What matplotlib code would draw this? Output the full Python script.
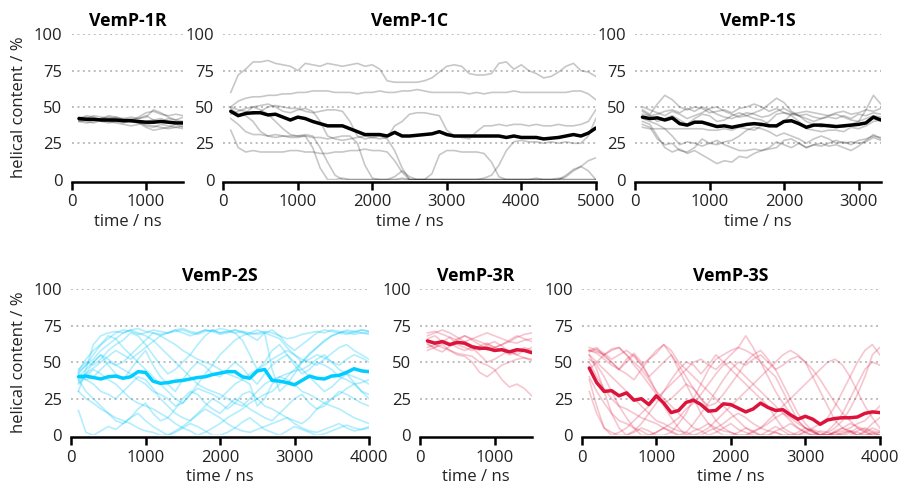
import numpy as np
import matplotlib
matplotlib.use("Agg")
import matplotlib.pyplot as plt

plt.rcParams['font.family'] = ['Open Sans', 'DejaVu Sans']

# ---------------- data ----------------
panel_titles = ["VemP-1R", "VemP-1C", "VemP-1S", "VemP-2S", "VemP-3R", "VemP-3S"]
panel_tmax = [1500, 5000, 3300, 4000, 1500, 4000]
yticks = [0, 25, 50, 75, 100]

# VemP-1R (t = 100..1500 ns, step 100)
vemp1r_runs = [
    [42, 43, 41, 42, 44, 43, 42, 41, 43, 46, 47, 45, 44, 45, 44],
    [40, 41, 42, 40, 39, 40, 41, 42, 40, 37, 36, 38, 37, 36, 37],
    [43, 42, 44, 43, 42, 41, 42, 43, 42, 44, 41, 40, 42, 41, 43],
    [41, 40, 39, 41, 40, 39, 38, 37, 38, 40, 41, 42, 40, 39, 38],
    [42, 44, 43, 41, 42, 43, 41, 40, 39, 36, 34, 35, 36, 38, 36],
    [40, 39, 40, 42, 41, 40, 39, 41, 42, 43, 48, 46, 43, 41, 40],
    [41, 42, 41, 42, 43, 42, 41, 40, 39, 38, 37, 36, 35, 36, 35],
]
vemp1r_mean = [42, 41.5, 41.5, 41, 41, 41, 40.5, 40.5, 40, 39.5, 39.5, 40, 39.5, 39, 39]

# VemP-1C (t = 100..5000 ns)
vemp1c_runs = [
    [60, 72, 76, 81, 81, 82, 80, 79, 78, 75,
     80, 79, 78, 80, 79, 78, 79, 80, 78, 79,
     76, 68, 67, 67, 67, 67, 68, 70, 74, 78,
     79, 78, 73, 72, 72, 73, 80, 81, 76, 79,
     75, 73, 70, 71, 74, 78, 80, 75, 74, 71],
    [50, 54, 56, 57, 57, 58, 58, 59, 59, 60,
     60, 61, 61, 61, 60, 60, 60, 59, 60, 60,
     61, 60, 60, 61, 61, 62, 61, 60, 60, 60,
     60, 60, 59, 60, 59, 60, 60, 60, 61, 60,
     60, 60, 60, 60, 60, 60, 61, 61, 59, 55],
    [42, 38, 33, 31, 31, 30, 31, 30, 30, 30,
     30, 22, 8, 0, 0, 1, 0, 0, 0, 0,
     0, 0, 0, 1, 0, 0, 0, 0, 0, 0,
     0, 0, 0, 0, 0, 0, 0, 0, 0, 0,
     0, 0, 0, 0, 0, 3, 7, 9, 13, 15],
    [34, 22, 19, 20, 19, 19, 19, 19, 20, 20,
     19, 19, 18, 18, 19, 19, 20, 20, 21, 20,
     20, 19, 13, 5, 0, 0, 0, 4, 17, 20,
     20, 19, 19, 19, 18, 12, 2, 0, 0, 0,
     0, 1, 0, 0, 0, 2, 6, 9, 6, 0],
    [50, 48, 47, 45, 47, 50, 51, 50, 49, 49,
     47, 46, 47, 48, 48, 47, 40, 30, 28, 29,
     28, 29, 37, 40, 45, 46, 46, 45, 44, 34,
     30, 29, 28, 33, 37, 37, 38, 37, 38, 38,
     37, 38, 37, 37, 38, 37, 37, 38, 40, 48],
    [49, 45, 44, 40, 33, 30, 29, 30, 29, 29,
     30, 29, 29, 28, 29, 30, 30, 25, 10, 1,
     0, 0, 0, 0, 0, 0, 0, 0, 0, 0,
     0, 0, 0, 0, 1, 3, 10, 20, 26, 27,
     26, 26, 25, 26, 25, 26, 25, 25, 30, 42],
    [45, 47, 49, 50, 48, 45, 40, 35, 31, 30,
     31, 30, 22, 12, 3, 0, 0, 0, 0, 0,
     0, 0, 2, 6, 2, 0, 0, 0, 0, 0,
     0, 0, 0, 0, 0, 0, 0, 0, 0, 0,
     0, 0, 0, 0, 0, 0, 0, 0, 0, 0],
    [47, 44, 46, 50, 51, 52, 50, 47, 46, 48,
     49, 47, 40, 30, 28, 27, 28, 29, 30, 29,
     30, 28, 20, 8, 0, 0, 0, 0, 0, 0,
     0, 0, 0, 0, 0, 0, 0, 0, 0, 0,
     0, 0, 0, 0, 1, 0, 0, 0, 0, 0],
]
vemp1c_mean = [47, 44, 45.5, 46, 46, 44.5, 45, 43, 41, 43,
               42, 40, 38.5, 37, 37, 37, 35, 33, 31, 31,
               31, 30, 32.5, 30, 30, 30.5, 31, 31.5, 33, 31,
               30, 30, 30, 30, 30, 30, 30, 29, 30, 29,
               29, 29, 28, 28.5, 29, 30, 31, 30, 32, 35.5]

# VemP-1S (t = 100..3300 ns)
vemp1s_runs = [
    [48, 45, 52, 58, 55, 50, 48, 50, 49, 46,
     47, 48, 46, 49, 50, 52, 50, 47, 49, 46,
     45, 46, 47, 46, 45, 44, 46, 47, 45, 46,
     48, 47, 49],
    [40, 38, 30, 22, 19, 21, 18, 20, 17, 14,
     11, 13, 12, 16, 15, 18, 20, 22, 26, 24,
     22, 25, 22, 24, 25, 23, 24, 22, 20, 23,
     27, 31, 28],
    [38, 36, 28, 24, 25, 20, 19, 22, 28, 25,
     27, 24, 22, 20, 20, 21, 20, 21, 22, 27,
     28, 25, 22, 24, 23, 25, 27, 25, 26, 25,
     26, 29, 27],
    [36, 35, 35, 35, 35, 35, 35, 35, 35, 34,
     34, 35, 34, 36, 35, 34, 37, 40, 45, 46,
     44, 40, 35, 34, 33, 34, 34, 33, 36, 35,
     37, 40, 41],
    [50, 48, 46, 44, 47, 45, 42, 44, 46, 49,
     50, 47, 45, 43, 44, 46, 48, 52, 56, 53,
     47, 44, 40, 38, 36, 38, 37, 36, 38, 40,
     48, 58, 52],
    [45, 44, 40, 42, 44, 41, 38, 42, 45, 44,
     40, 41, 44, 46, 44, 42, 41, 38, 36, 40,
     45, 44, 42, 40, 42, 43, 42, 44, 42, 45,
     44, 46, 45],
    [42, 40, 38, 35, 30, 24, 26, 25, 23, 25,
     24, 26, 27, 30, 34, 36, 35, 33, 30, 32,
     30, 28, 25, 28, 30, 28, 25, 26, 24, 27,
     28, 30, 29],
    [47, 44, 45, 47, 48, 46, 49, 47, 50, 48,
     45, 43, 42, 44, 46, 45, 43, 44, 47, 49,
     46, 44, 45, 43, 42, 44, 45, 43, 41, 40,
     42, 44, 43],
]
vemp1s_mean = [43, 42, 42.5, 41, 42.5, 38.5, 37.5, 39.5, 39.5, 38,
               36.5, 37, 36, 37, 38, 38.5, 38, 37, 37, 40,
               40.5, 38.5, 36, 37.5, 37.5, 37, 36.5, 37, 37.5, 38,
               39, 43, 41]

# VemP-2S (t = 100..4000 ns)
vemp2s_runs = [
    [30, 45, 62, 68, 70, 71, 70, 72, 73, 71, 70, 69, 70, 71, 72, 70, 69, 71, 72, 70,
     71, 72, 70, 69, 70, 71, 70, 68, 66, 67, 69, 70, 71, 70, 72, 71, 70, 69, 70, 70],
    [44, 52, 58, 62, 66, 70, 72, 71, 69, 70, 72, 71, 70, 72, 73, 71, 70, 72, 71, 73,
     72, 70, 71, 70, 69, 70, 45, 30, 35, 42, 50, 56, 60, 64, 68, 70, 72, 71, 72, 71],
    [17, 2, 0, 3, 6, 4, 8, 12, 15, 10, 6, 3, 0, 2, 5, 8, 6, 3, 0, 0,
     2, 5, 9, 12, 8, 4, 2, 0, 3, 6, 4, 2, 0, 1, 3, 5, 7, 5, 4, 6],
    [40, 45, 50, 55, 48, 42, 38, 45, 52, 58, 48, 40, 35, 30, 38, 45, 50, 47, 42, 40,
     45, 50, 46, 40, 35, 42, 48, 52, 55, 50, 45, 40, 35, 30, 33, 38, 42, 36, 30, 28],
    [38, 30, 25, 20, 15, 10, 8, 12, 18, 22, 15, 10, 12, 18, 25, 30, 28, 22, 18, 15,
     20, 25, 22, 18, 15, 12, 10, 15, 20, 25, 28, 22, 18, 20, 25, 30, 28, 25, 22, 20],
    [42, 48, 55, 62, 68, 66, 60, 55, 50, 45, 40, 35, 30, 25, 22, 28, 35, 42, 48, 55,
     60, 65, 68, 70, 72, 70, 68, 66, 60, 55, 50, 52, 55, 53, 50, 48, 52, 55, 53, 50],
    [35, 40, 45, 42, 38, 35, 30, 25, 22, 20, 18, 15, 12, 8, 5, 3, 0, 2, 5, 8,
     12, 15, 18, 22, 25, 28, 30, 35, 40, 45, 50, 55, 60, 65, 68, 70, 71, 70, 72, 71],
    [45, 50, 48, 52, 58, 62, 65, 70, 68, 62, 55, 48, 42, 45, 50, 55, 62, 68, 72, 70,
     71, 70, 65, 55, 45, 50, 58, 62, 55, 48, 42, 45, 50, 48, 45, 40, 38, 35, 36, 38],
    [40, 38, 35, 30, 28, 25, 30, 35, 40, 38, 32, 25, 20, 15, 12, 10, 15, 20, 25, 22,
     18, 22, 28, 30, 25, 20, 18, 15, 12, 10, 8, 12, 18, 22, 25, 28, 32, 35, 30, 25],
    [42, 38, 40, 45, 50, 48, 45, 42, 38, 35, 30, 28, 25, 20, 22, 28, 32, 30, 28, 25,
     30, 35, 38, 35, 20, 25, 35, 40, 38, 35, 30, 28, 25, 22, 20, 18, 15, 12, 10, 8],
    [36, 42, 50, 55, 52, 48, 50, 55, 60, 65, 70, 68, 65, 62, 58, 55, 52, 50, 48, 45,
     42, 40, 38, 42, 45, 48, 52, 55, 58, 55, 52, 50, 48, 52, 56, 60, 62, 58, 55, 52],
    [30, 25, 22, 18, 15, 12, 10, 8, 5, 3, 2, 0, 0, 3, 6, 10, 14, 18, 15, 12,
     8, 5, 3, 2, 4, 6, 8, 10, 12, 8, 5, 3, 2, 4, 6, 8, 5, 3, 4, 5],
    [43, 48, 52, 58, 62, 66, 70, 72, 70, 68, 65, 60, 55, 50, 45, 40, 35, 32, 30, 28,
     25, 22, 20, 25, 30, 35, 38, 40, 42, 44, 45, 48, 52, 55, 50, 45, 42, 40, 38, 35],
    [38, 42, 46, 50, 54, 58, 55, 52, 56, 60, 64, 68, 70, 72, 70, 68, 70, 72, 71, 69,
     70, 72, 71, 68, 65, 70, 72, 68, 62, 58, 62, 66, 70, 72, 71, 70, 69, 71, 70, 69],
]
vemp2s_mean = [40, 40.5, 39.5, 38.5, 40, 40.5, 39, 40, 43.5, 43,
               37, 35.5, 36, 37, 37.5, 38.5, 39.5, 40, 41.5, 42.5,
               43.5, 43.5, 40, 39, 44, 45, 37.5, 37, 36, 34.5,
               37.5, 40.5, 39, 38.5, 40.5, 41, 43, 45.5, 44, 43.5]

# VemP-3R (t = 100..1500 ns)
vemp3r_runs = [
    [65, 62, 60, 58, 56, 55, 54, 50, 48, 45, 38, 33, 35, 32, 27],
    [62, 60, 62, 58, 55, 54, 50, 43, 40, 44, 48, 50, 52, 53, 52],
    [70, 71, 69, 67, 65, 68, 66, 64, 62, 60, 62, 64, 63, 65, 66],
    [60, 62, 65, 63, 60, 58, 60, 55, 50, 52, 55, 58, 55, 53, 51],
    [68, 70, 72, 70, 67, 64, 66, 68, 70, 68, 66, 64, 67, 69, 70],
    [58, 60, 64, 67, 62, 60, 58, 61, 63, 60, 58, 55, 57, 60, 58],
    [66, 68, 64, 62, 66, 68, 65, 62, 58, 60, 62, 65, 68, 66, 64],
    [63, 59, 57, 61, 64, 62, 60, 58, 62, 64, 61, 57, 55, 58, 60],
]
vemp3r_mean = [64.5, 63, 64, 62, 63.5, 63, 60.5, 59.5, 59.5, 58, 58.5, 57, 58.5, 58, 56.5]

# VemP-3S (t = 100..4000 ns)
vemp3s_runs = [
    [58, 57, 55, 59, 60, 55, 50, 45, 38, 30, 25, 20, 15, 10, 5, 3, 0, 2, 5, 8,
     4, 2, 0, 0, 3, 6, 3, 0, 0, 2, 4, 2, 0, 0, 1, 3, 2, 0, 1, 2],
    [55, 45, 30, 15, 5, 0, 2, 5, 3, 0, 0, 2, 8, 15, 25, 35, 45, 52, 55, 58,
     60, 58, 55, 50, 45, 40, 30, 20, 10, 5, 2, 0, 0, 2, 5, 3, 0, 0, 2, 0],
    [57, 59, 56, 52, 55, 58, 54, 48, 52, 56, 62, 58, 50, 45, 40, 35, 30, 25, 20, 15,
     10, 5, 2, 0, 0, 3, 5, 8, 5, 2, 0, 0, 3, 8, 15, 25, 35, 45, 50, 48],
    [38, 20, 5, 0, 2, 5, 10, 15, 20, 25, 30, 35, 40, 45, 50, 52, 48, 45, 50, 55,
     60, 68, 60, 50, 40, 30, 22, 15, 10, 5, 3, 0, 0, 2, 0, 0, 3, 5, 3, 2],
    [60, 58, 55, 50, 45, 52, 56, 50, 40, 30, 20, 12, 5, 0, 0, 2, 5, 10, 15, 20,
     25, 30, 35, 40, 45, 50, 55, 58, 55, 50, 45, 38, 30, 22, 15, 10, 5, 2, 0, 0],
    [52, 48, 40, 30, 20, 12, 5, 0, 0, 2, 5, 3, 0, 2, 8, 15, 22, 30, 38, 45,
     50, 48, 52, 55, 50, 45, 48, 52, 54, 50, 40, 30, 20, 10, 5, 2, 0, 3, 8, 12],
    [45, 50, 55, 58, 60, 55, 48, 42, 35, 28, 22, 25, 30, 35, 32, 25, 18, 10, 5, 2,
     0, 0, 3, 5, 10, 15, 20, 25, 30, 35, 40, 45, 50, 52, 48, 40, 30, 20, 12, 5],
    [58, 56, 52, 48, 45, 42, 38, 45, 52, 58, 62, 55, 45, 35, 25, 15, 8, 3, 0, 0,
     2, 5, 3, 0, 0, 2, 0, 0, 0, 3, 5, 8, 12, 20, 30, 40, 50, 58, 62, 55],
    [40, 30, 22, 15, 10, 8, 5, 3, 0, 2, 5, 8, 12, 18, 22, 28, 35, 42, 48, 50,
     45, 40, 35, 30, 25, 20, 15, 10, 5, 2, 0, 0, 2, 5, 10, 18, 28, 40, 55, 60],
    [55, 50, 45, 40, 35, 30, 25, 20, 15, 10, 8, 5, 3, 2, 0, 0, 3, 5, 8, 12,
     15, 12, 8, 5, 3, 2, 0, 0, 2, 5, 3, 0, 0, 2, 3, 5, 8, 10, 15, 20],
    [30, 15, 5, 2, 0, 0, 3, 8, 15, 22, 30, 38, 45, 50, 48, 42, 48, 55, 50, 45,
     40, 35, 30, 25, 20, 12, 5, 2, 0, 0, 0, 3, 2, 0, 0, 2, 5, 3, 0, 0],
    [58, 60, 54, 50, 45, 50, 55, 48, 40, 45, 50, 55, 48, 40, 32, 25, 20, 22, 28, 35,
     42, 50, 55, 58, 52, 45, 35, 25, 15, 8, 3, 0, 0, 0, 2, 3, 0, 2, 5, 3],
    [50, 40, 32, 25, 20, 18, 15, 12, 10, 8, 5, 2, 0, 0, 3, 5, 8, 5, 3, 2,
     0, 0, 2, 5, 8, 12, 15, 12, 8, 5, 2, 0, 0, 3, 5, 8, 6, 4, 2, 0],
]
vemp3s_mean = [46, 36, 30, 30.5, 27, 29, 24, 25, 21, 27,
               22, 15.5, 17, 22.5, 24, 21, 16.5, 17, 21.5, 21,
               18.5, 16, 18, 22, 19, 17, 17.5, 14, 11, 13,
               11, 7.5, 10.5, 11.5, 12, 12, 12.5, 15, 16, 15.5]

panel_runs = [vemp1r_runs, vemp1c_runs, vemp1s_runs, vemp2s_runs, vemp3r_runs, vemp3s_runs]
panel_means = [vemp1r_mean, vemp1c_mean, vemp1s_mean, vemp2s_mean, vemp3r_mean, vemp3s_mean]

# ---------------- style / layout ----------------
W, H = 898, 488
fig = plt.figure(figsize=(W / 100, H / 100), dpi=100)

px_per_ns = 0.0745
rows = [(34.3, 179.6), (289.0, 435.3)]
panel_x0 = [71.5, 223.3, 635.0, 71.0, 420.0, 581.8]
panel_row = [0, 0, 0, 1, 1, 1]
panel_run_style = [
    dict(color='black', alpha=0.22, lw=1.2),
] * 3 + [
    dict(color='#00C8FA', alpha=0.3, lw=1.2),
    dict(color='#DC143C', alpha=0.24, lw=1.2),
    dict(color='#DC143C', alpha=0.24, lw=1.2),
]
panel_mean_color = ['black', 'black', 'black', '#00CCFF', '#DC143C', '#DC143C']

text_color = '#222222'
fs = 12

for i in range(6):
    tmax = panel_tmax[i]
    ytop, ybot = rows[panel_row[i]]
    x0 = panel_x0[i]
    x1 = x0 + tmax * px_per_ns
    ax = fig.add_axes([x0 / W, 1 - ybot / H, (x1 - x0) / W, (ybot - ytop) / H])
    ax.set_xlim(0, tmax)
    ax.set_ylim(0, 100)

    for yv in yticks[1:]:
        ax.axhline(yv, color='#bdbdbd', lw=1.4, ls=(0, (1, 1.8)), zorder=0)

    runs = panel_runs[i]
    for run in runs:
        t = np.arange(1, len(run) + 1) * 100
        ax.plot(t, run, solid_joinstyle='round', **panel_run_style[i], zorder=2)
    m = panel_means[i]
    tm = np.arange(1, len(m) + 1) * 100
    ax.plot(tm, m, color=panel_mean_color[i], lw=2.5, zorder=3,
            solid_joinstyle='round', solid_capstyle='round')

    for s in ['top', 'right', 'left']:
        ax.spines[s].set_visible(False)
    ax.spines['bottom'].set_position(('outward', 1.5))
    ax.spines['bottom'].set_linewidth(1.8)
    ax.spines['bottom'].set_bounds(0, tmax)

    ax.set_xticks(np.arange(0, tmax + 1, 1000))
    ax.set_yticks(yticks)
    ax.tick_params(axis='x', direction='out', length=5.5, width=1.8, pad=3.5,
                   labelsize=fs, labelcolor=text_color)
    ax.tick_params(axis='y', length=0, pad=6.5, labelsize=fs, labelcolor=text_color)
    ax.set_xlabel("time / ns", fontsize=fs, color=text_color, labelpad=2.5)
    ax.set_title(panel_titles[i], fontsize=12.8, fontweight='bold', pad=6, color='black')
    ax.patch.set_alpha(0)

for yc in [107, 362]:
    fig.text(19 / W, 1 - yc / H, "helical content / %", rotation=90,
             ha='center', va='center', fontsize=fs, color=text_color)

fig.savefig("out.png", dpi=100)
